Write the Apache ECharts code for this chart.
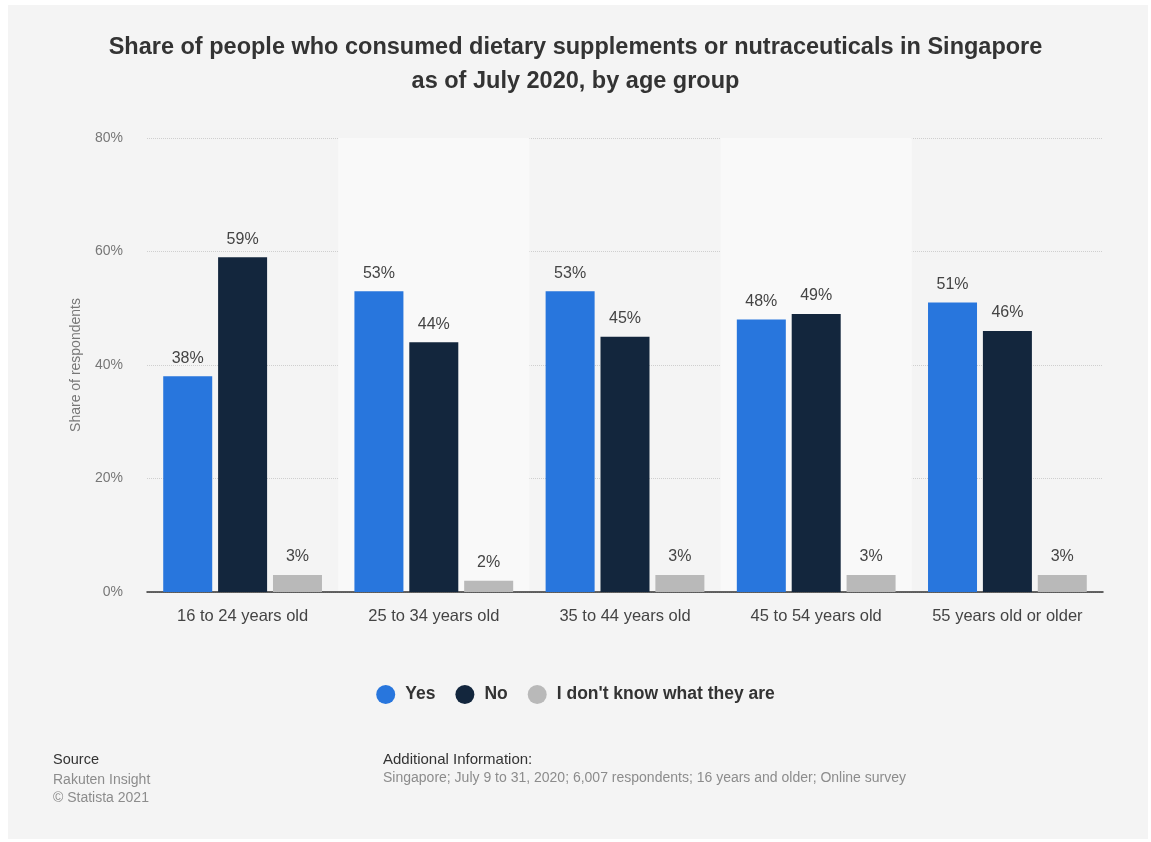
<!DOCTYPE html>
<html>
<head>
<meta charset="utf-8">
<script src="https://cdn.jsdelivr.net/npm/echarts@6/dist/echarts.min.js"></script>
<style>
html,body{margin:0;padding:0;background:#ffffff;}
#chart{width:1151px;height:842px;}
</style>
</head>
<body>
<div id="chart"></div>
<script>
var categories = ['16 to 24 years old', '25 to 34 years old', '35 to 44 years old', '45 to 54 years old', '55 years old or older'];
var seriesNames = ['Yes', 'No', "I don't know what they are"];
var yesValues = [38, 53, 53, 48, 51];
var noValues = [59, 44, 45, 49, 46];
var dontKnowValues = [3, 2, 3, 3, 3];
var yTicks = [0, 20, 40, 60, 80];

var colors = ['#2876dd', '#13263d', '#b9b9b9'];
var font = '"Liberation Sans", Arial, sans-serif';

function barSeries(name, data, color) {
  return {
    name: name,
    type: 'bar',
    data: data,
    barWidth: 49,
    barGap: '12%',
    itemStyle: { color: color },
    label: {
      show: true,
      position: 'top',
      distance: 10,
      formatter: '{c}%',
      color: '#444444',
      fontSize: 16,
      fontFamily: font
    }
  };
}

var chart = echarts.init(document.getElementById('chart'));
chart.setOption({
  backgroundColor: '#ffffff',
  animation: false,
  color: colors,
  title: {
    text: 'Share of people who consumed dietary supplements or nutraceuticals in Singapore\nas of July 2020, by age group',
    left: 'center',
    top: 26,
    textStyle: { fontSize: 23.5, fontWeight: 'bold', color: '#333333', lineHeight: 34, fontFamily: font, align: 'center' }
  },
  graphic: [
    { type: 'rect', left: 8, top: 5, shape: { width: 1140, height: 834 }, style: { fill: '#f4f4f4' }, z: -10, silent: true },
    { type: 'text', left: 53, top: 752, style: { text: 'Source', fill: '#333333', font: '14.5px ' + font } },
    { type: 'text', left: 53, top: 771, style: { text: 'Rakuten Insight\n© Statista 2021', fill: '#8c8c8c', font: '14px ' + font, lineHeight: 18 } },
    { type: 'text', left: 383, top: 752, style: { text: 'Additional Information:', fill: '#333333', font: '15px ' + font } },
    { type: 'text', left: 383, top: 771, style: { text: 'Singapore; July 9 to 31, 2020; 6,007 respondents; 16 years and older; Online survey', fill: '#8c8c8c', font: '14px ' + font } }
  ],
  legend: {
    data: seriesNames,
    left: 'center',
    top: 680,
    icon: 'circle',
    itemWidth: 19,
    itemHeight: 19,
    itemGap: 20,
    textStyle: { fontSize: 17.5, fontWeight: 'bold', color: '#333333', fontFamily: font, padding: [0, 0, 0, 5] }
  },
  grid: { left: 147, right: 48, top: 138, bottom: 250 },
  xAxis: {
    type: 'category',
    data: categories,
    axisLine: { lineStyle: { color: '#333333', width: 1.5 } },
    axisTick: { show: false, interval: 0 },
    axisLabel: { interval: 0, color: '#444444', fontSize: 16.5, margin: 16, fontFamily: font },
    splitArea: { show: true, interval: 0, areaStyle: { color: ['rgba(0,0,0,0)', '#f9f9f9'] } }
  },
  yAxis: {
    type: 'value',
    min: yTicks[0],
    max: yTicks[yTicks.length - 1],
    interval: 20,
    name: 'Share of respondents',
    nameLocation: 'middle',
    nameGap: 64,
    nameTextStyle: { color: '#777777', fontSize: 14, fontFamily: font },
    axisLine: { show: false },
    axisTick: { show: false },
    axisLabel: { formatter: '{value}%', color: '#777777', fontSize: 14, margin: 24, fontFamily: font },
    splitLine: { lineStyle: { color: '#cfcfcf', type: 'dotted', width: 1 } }
  },
  series: [
    barSeries(seriesNames[0], yesValues, colors[0]),
    barSeries(seriesNames[1], noValues, colors[1]),
    barSeries(seriesNames[2], dontKnowValues, colors[2])
  ]
});
</script>
</body>
</html>
